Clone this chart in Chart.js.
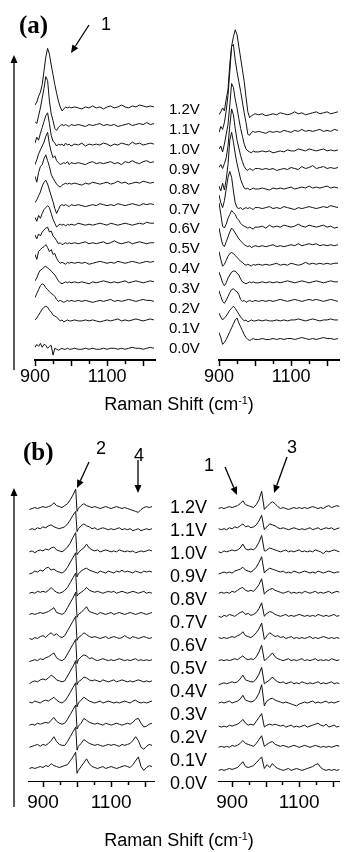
<!DOCTYPE html>
<html>
<head>
<meta charset="utf-8">
<script src="https://cdn.jsdelivr.net/npm/chart.js@4.4.0/dist/chart.umd.min.js"></script>
<style>
  body { margin: 0; background: #fff; }
  #page { position: relative; width: 345px; height: 852px; overflow: hidden; background: #fff;
          font-family: 'Liberation Sans', Arial, sans-serif; color: #000; }
  canvas { position: absolute; }
  .txt { position: absolute; white-space: nowrap; line-height: 1; }
  .lettre { font-family: 'Liberation Serif', 'Times New Roman', serif; font-weight: bold; font-size: 25px; }
  .num { font-size: 18px; transform: translate(-50%, -50%); }
  .titre { font-size: 18px; transform: translate(-50%, -50%); }
  .titre sup { font-size: 0.6em; vertical-align: 0.6em; line-height: 0; }
  svg { position: absolute; left: 0; top: 0; }
</style>
</head>
<body>
<div id="page">
  <canvas id="aGauche" width="172" height="374" style="left:0;top:20px"></canvas>
  <canvas id="aDroite" width="165" height="374" style="left:180px;top:20px"></canvas>
  <canvas id="bGauche" width="172" height="354" style="left:0;top:470px"></canvas>
  <canvas id="bDroite" width="165" height="354" style="left:180px;top:470px"></canvas>
  <svg id="fleches" width="345" height="852"></svg>
</div>
<script>
// ==================== DONNÉES ====================

const tensions = ['1.2V', '1.1V', '1.0V', '0.9V', '0.8V', '0.7V', '0.6V', '0.5V', '0.4V', '0.3V', '0.2V', '0.1V', '0.0V'];

// Raman shift (cm-1), panneau (a) : plus serré autour du pic
const shiftA = [900, 905, 910, 915, 920, 925, 930, 935, 940, 945, 950, 955, 960, 965, 970, 975, 980, 985, 990, 995, 1000,
  1010, 1020, 1030, 1040, 1050, 1060, 1070, 1080, 1090, 1100, 1110, 1120, 1130, 1140, 1150, 1160, 1170, 1180, 1190, 1200, 1210, 1220, 1230];

// Raman shift (cm-1), panneau (b) ; point en plus à 1000 pour la chute du pic
const shiftB = [860, 868, 876, 884, 892, 900, 908, 916, 924, 932, 940, 948, 956, 964, 972, 980, 988, 996, 1000, 1004, 1012,
  1020, 1028, 1036, 1044, 1052, 1060, 1068, 1076, 1084, 1092, 1100, 1108, 1116, 1124, 1132, 1140, 1148, 1156, 1164, 1172,
  1180, 1188, 1196, 1204, 1212, 1220];

const ticksLabels = [900, 1100];

// Décalage vertical de chaque spectre dans l'empilement (1.2V en haut)
const decalageAGauche = [258, 240, 220, 201, 180, 158, 138, 119, 99, 79, 60, 40, 11];
const decalageADroite = [251, 233, 213, 195, 175, 155, 135, 116, 97, 79, 60, 40, 21];
const decalageBGauche = [283, 261, 238, 216, 195, 173, 148, 125, 103, 81, 58, 36, 13];
const decalageBDroite = [283, 261, 238, 216, 195, 171, 148, 125, 101, 81, 56, 35, 11];

// Intensités (au-dessus de la ligne de base de chaque spectre)
const spectresAGauche = [
  [3, 6, 12, 16, 24, 38, 52, 61, 55, 44, 34, 24, 15, 7, 1, -3, -1, 1, 0, 1, 0, 1, 0, -1, 1, 0, 2, 0, 1, -1, 1, 2, 0, 1, 3, 1, 0, 2, 1, 3, 2, 1, 2, 1],
  [4, 2, 10, 18, 28, 38, 50, 46, 25, 12, 5, -3, -5, -2, 0, 1, 0, 1, 0, -1, 1, 0, 1, 0, -1, 1, 0, 1, 2, 0, 1, 0, 1, -1, 0, 1, 2, 0, 1, 2, 1, 3, 1, 2],
  [2, 8, 5, 12, 18, 24, 30, 33, 22, 10, 4, 2, -1, 1, 0, 1, -1, 2, 0, 1, -1, 1, 0, 2, -1, 1, 0, 1, 0, 2, 1, -1, 1, 0, 2, 1, 0, 3, 1, 2, 0, 1, 2, 1],
  [-1, 4, 10, 14, 18, 22, 28, 32, 20, 12, 6, 8, 3, 1, -1, 0, 1, 0, 2, -1, 1, 0, 1, 0, -1, 1, 2, 0, 1, 0, 1, 2, 0, 1, -1, 2, 1, 3, 1, 0, 2, 3, 1, 2],
  [8, 2, 12, 18, 20, 26, 30, 24, 18, 10, 6, 3, 0, -2, -3, -1, 0, 1, 0, 1, 0, 1, 0, -1, 1, 0, 2, 1, 0, 1, 2, 0, 1, 3, 1, 2, 0, 1, 2, 1, 3, 2, 1, 2],
  [3, 6, 10, 14, 20, 24, 26, 22, 16, 10, 4, -3, -8, -4, 0, 1, 0, 1, 0, -1, 1, 0, 1, 0, -1, 0, 1, 0, 2, 1, 0, 1, 0, 2, 1, 0, 1, 2, 1, 0, 2, 1, 2, 1],
  [8, 4, 10, 7, 12, 16, 18, 20, 18, 12, 6, 2, -2, 0, 1, 0, 1, -1, 1, 0, 1, 0, 2, 1, 0, 1, 0, 1, 2, 1, 0, 2, 1, 0, 1, 2, 1, 0, 1, 2, 1, 3, 2, 2],
  [9, 5, 10, 8, 12, 14, 16, 17, 12, 13, 8, 6, 3, 0, 1, -1, 0, 1, 0, 1, 0, 1, 0, 1, 2, 0, 1, 0, 1, 2, 0, 1, 3, 1, 0, 1, 2, 0, 1, 2, 1, 0, 1, 1],
  [9, 4, 12, 14, 16, 17, 19, 16, 12, 14, 9, 10, 5, 2, 0, 1, 0, -1, 1, 0, 1, 0, 1, 0, 1, -1, 0, 1, 2, 1, 0, 1, 0, 2, 1, 0, 1, 2, 1, 0, 1, 2, 1, 2],
  [2, 5, 10, 13, 14, 16, 17, 15, 14, 12, 10, 8, 5, 2, 0, -1, 0, 1, 0, 1, 0, 1, 0, 1, 0, -1, 1, 0, 1, 2, 1, 0, 1, 0, 1, 2, 0, 1, 2, 1, 0, 1, 2, 1],
  [4, 8, 12, 16, 18, 17, 14, 12, 10, 8, 7, 5, 2, 0, 1, 0, -1, 0, 1, 0, 1, 0, 1, 0, 1, 0, -1, 0, 1, 0, 1, 2, 0, 1, 0, 1, 2, 1, 0, 1, 2, 1, 1, 0],
  [1, 3, 6, 9, 12, 14, 15, 14, 11, 9, 6, 5, 4, 2, 0, 1, -1, 0, 1, 0, 0, 1, 0, 0, 1, 0, 1, 0, -1, 0, 1, 0, 1, 2, 0, 1, 0, 1, 2, 1, 0, 1, 2, 1],
  [2, 5, 3, 6, 2, 5, 4, 1, 3, 4, -6, 1, 0, -1, 0, 1, 0, 0, 1, 0, 0, 1, 0, 0, 1, 0, 1, 0, 0, 1, 0, 1, 1, 0, 1, 0, 1, 2, 1, 1, 0, 1, 2, 1]
];

const spectresADroite = [
  [0, 3, 7, 4, 16, 26, 52, 70, 80, 87, 82, 70, 58, 46, 34, 18, 3, -3, -1, 0, 1, 0, 1, -1, 0, 1, 0, 2, 1, 0, 1, 3, 1, 2, 0, 1, 2, 3, 1, 2, 3, 1, 2, 3],
  [0, 6, 3, 10, 22, 38, 62, 88, 90, 74, 62, 52, 42, 31, 20, 10, -2, -3, 0, 1, 0, 1, 0, -1, 1, 0, 1, 0, 2, 1, 0, 2, 1, 3, 1, 2, 1, 2, 3, 1, 2, 1, 3, 2],
  [3, 6, 0, 8, 18, 28, 48, 70, 66, 54, 45, 34, 24, 16, 8, 3, 1, 0, -1, 1, 0, 0, 1, 0, 1, -1, 0, 1, 0, 2, 1, 1, 3, 2, 1, 3, 2, 1, 2, 3, 1, 2, 1, 2],
  [2, 5, 1, 6, 12, 24, 45, 62, 56, 42, 30, 22, 14, 8, 3, 0, -1, 1, 0, -1, 1, 1, 0, 1, 0, 1, -1, 0, 1, 0, 2, 1, 0, 3, 1, 2, 4, 1, 2, 3, 1, 2, 1, 2],
  [3, -2, 6, -1, 10, 25, 50, 58, 48, 36, 26, 18, 10, 5, 1, 0, 1, -1, 0, 1, 0, 0, 1, 0, -1, 1, 0, 1, 0, 1, 2, 0, 1, 2, 1, 3, 1, 2, 1, 2, 3, 1, 2, 1],
  [14, 6, 1, 8, 20, 32, 38, 32, 18, 6, 1, 0, 1, -1, 0, 1, 0, 1, 0, -1, 1, 1, 0, 1, 2, 0, 1, 0, 2, 1, 0, -1, 1, 0, 1, 2, 1, 0, 1, 2, 1, 3, 2, 1],
  [26, 14, 2, 0, 4, 10, 14, 18, 16, 14, 10, 8, 5, 3, 2, 1, 0, 1, 0, -1, 1, 1, 2, 0, 3, 1, 2, 1, 3, 2, 1, 2, 4, 2, 1, 3, 2, 1, 2, 3, 1, 2, 0, 1],
  [19, 10, 2, 0, 5, 10, 15, 19, 17, 14, 11, 8, 6, 4, 2, 1, 0, 1, -1, 0, 1, 0, 1, 0, 1, 2, 0, 1, 0, 1, 2, 1, 3, 1, 2, 3, 2, 3, 1, 2, 1, 2, 1, 2],
  [14, 6, -1, 1, 5, 9, 12, 13, 12, 10, 8, 6, 4, 3, 1, 0, 1, 0, -1, 1, 0, 1, 0, 1, 0, 1, 2, 0, 1, 0, 2, 1, 0, 1, 3, 1, 2, 1, 2, 1, 2, 1, 2, 2],
  [11, 6, 0, -3, 0, 5, 8, 11, 12, 12, 10, 8, 4, 1, 0, -1, 0, 1, 0, 1, 0, 0, 1, 0, 1, 0, 1, 0, 1, 2, 1, 0, 1, 2, 1, 0, 1, 2, 1, 0, 1, 2, 1, 1],
  [11, 5, 0, -2, 1, 5, 9, 12, 13, 11, 10, 7, 2, 0, 1, -1, 0, 1, 0, 0, 1, 0, 1, 0, 1, 0, 1, 2, 1, 0, 1, 2, 1, 0, 1, 2, 1, 2, 1, 0, 1, 2, 1, 0],
  [8, 4, 1, 3, 5, 8, 11, 13, 15, 13, 10, 7, 4, 2, 0, 1, -1, 0, 1, 0, 0, 1, 0, 1, 0, 0, 1, 0, 1, 0, 1, 1, 2, 1, 0, 1, 2, 1, 0, 1, 1, 2, 1, 1],
  [7, 2, -5, -3, 0, 4, 8, 12, 16, 20, 22, 17, 13, 9, 5, 2, 0, -1, 0, 1, 0, 0, 1, 0, 0, 1, 0, 1, 0, 1, 1, 0, 1, 2, 1, 0, 1, 0, 1, 2, 1, 1, 0, 1]
];

const spectresBGauche = [
  [-1, 0, 1, 0, 1, 2, 1, 2, 3, 6, 3, 2, 1, 3, 5, 9, 14, 20, -3, 0, 3, 5, 3, 2, 1, 2, 1, 0, 1, 2, 1, 0, 1, 2, 1, 0, 1, 0, -1, -2, -3, -4, -1, 1, 2, 1, 2],
  [0, 1, 0, 2, 1, 3, 2, 4, 5, 3, 2, 1, 2, 3, 6, 10, 15, 19, -2, 1, 4, 6, 4, 3, 1, 2, 0, 1, 2, 1, 0, 1, 0, 1, 2, 0, 1, 0, 1, -1, 0, 1, -1, 0, 1, 0, 1],
  [0, 1, -1, 1, 2, 1, 3, 2, 4, 5, 2, 1, 0, 2, 5, 9, 15, 20, -3, -1, 2, 4, 8, 4, 2, 1, 2, 0, 1, 2, 1, 0, 1, 0, 2, 1, 0, 1, 0, 1, -1, 0, 1, 0, 1, 2, 1],
  [-1, 0, 2, 1, 3, 2, 5, 6, 3, 4, 2, 1, 0, 2, 6, 11, 16, 21, -4, -1, 2, 4, 5, 3, 2, 1, 0, 2, 1, 0, 2, 1, 0, 2, 1, 3, 1, 2, 1, 0, 2, 1, 0, 2, 1, 2, 1],
  [0, 1, 0, 2, 1, 2, 1, 3, 6, 3, 1, 0, 1, 3, 6, 11, 16, 21, -3, -1, 1, 3, 6, 3, 2, 1, 2, 1, 0, 1, 2, 1, 2, 0, 1, 2, 1, 0, 1, 2, 1, 0, 1, 2, 0, 1, 0],
  [0, 1, 0, 1, 2, 1, 2, 3, 5, 7, 2, 1, 0, 2, 7, 12, 17, 23, -3, 0, 2, 5, 8, 3, 2, 1, 0, 2, 1, 0, 1, 2, 0, 1, 2, 1, 0, 1, 2, 1, 0, 1, 2, 1, 0, 1, 2],
  [0, -1, 1, 0, 2, 3, 1, 4, 6, 3, 5, 2, 1, 3, 8, 13, 18, 23, -2, 1, 3, 6, 4, 2, 1, 2, 1, 0, 1, 2, 0, 1, 2, 1, 0, 1, 3, 1, 0, 2, 1, 0, 1, 2, 1, 0, 1],
  [-1, 0, 1, 0, 2, 1, 3, 4, 6, 8, 3, 1, 0, 2, 7, 12, 17, 22, -3, 1, 4, 6, 5, 2, 3, 1, 0, 1, 2, 1, 0, 1, 0, 1, 2, 1, 0, 1, 0, 1, 2, 0, 1, 0, 1, 0, 1],
  [-2, 0, 1, 0, 2, 3, 2, 4, 7, 5, 2, 1, 0, 1, 6, 11, 16, 22, -3, 0, 2, 5, 4, 2, 1, 2, 1, 0, 2, 1, 0, 1, 2, 0, 1, 2, 1, 0, 1, 0, 1, 2, 1, 0, 1, 0, 1],
  [1, 0, 2, 1, 0, 2, 3, 2, 4, 6, 3, 1, 0, 2, 6, 11, 16, 21, -4, 0, 3, 6, 4, 2, 1, 0, 1, 2, 0, 1, 2, 1, 0, 1, 0, 1, 2, 1, 0, 2, 3, 1, 0, 1, 0, 1, 2],
  [0, 1, 0, 2, 1, 2, 3, 2, 5, 8, 4, 2, 1, 2, 6, 11, 16, 21, -4, -1, 2, 7, 5, 3, 2, 1, 2, 1, 0, 2, 1, 0, 1, 2, 1, 0, 1, 2, 1, 3, 6, 7, 2, -2, -1, 1, 2],
  [-1, 0, 1, 2, 0, 2, 1, 3, 6, 10, 5, 2, 1, 1, 5, 10, 15, 20, -4, 0, 3, 7, 5, 3, 2, 1, 2, 1, 0, 1, 2, 1, 2, 1, 0, 2, 1, 2, 3, 6, 10, 6, -1, -3, 0, 2, 1],
  [0, 1, 0, 1, 2, 1, 3, 2, 5, 3, 2, 1, 2, 3, 4, 8, 12, 17, -5, -2, 2, 6, 10, 5, 2, 1, 0, 1, 2, 0, 1, 2, 1, 0, 1, 2, 3, 2, 1, 4, 8, 12, 2, -2, 1, 3, 2]
];

const spectresBDroite = [
  [0, 1, 0, 1, 2, 1, 2, 3, 5, 8, 4, 3, 2, 1, 4, 9, 18, -1, 1, 2, 5, 7, 5, 2, 0, 1, 0, -1, 0, 1, 0, 1, 0, 1, 0, 1, 2, 1, 0, 1, 0, 2, 3, 1, 2, 3, 2],
  [1, 0, 1, 0, 2, 1, 3, 2, 4, 6, 3, 4, 2, 3, 5, 9, 15, 0, 2, 3, 6, 5, 4, 2, 1, 2, 1, 0, 1, 2, 1, 0, 1, 0, 1, 2, 0, 1, 2, 0, 1, 2, 1, 2, 0, 1, 2],
  [0, -1, 1, 0, 1, 2, 1, 2, 4, 8, 3, 2, 3, 2, 5, 10, 17, 1, 1, 2, 4, 3, 2, 1, 0, 1, 2, 0, 1, 0, 1, 2, 0, 1, 0, 1, 0, 2, 1, 0, -2, 1, 0, 1, 2, 1, 0],
  [-1, 0, 1, 0, 1, 0, 2, 3, 4, 6, 3, 2, 1, 3, 6, 11, 17, 0, 2, 3, 5, 4, 3, 2, 1, 2, 0, 1, 0, 2, 1, 0, 1, 2, 1, 0, 1, 0, 2, 1, 0, 1, 2, 1, 0, 1, 1],
  [0, 1, 0, 1, 0, 2, 1, 3, 5, 6, 3, 2, 3, 2, 5, 9, 15, -1, 1, 2, 4, 5, 3, 2, 1, 0, 1, 2, 0, 1, 0, 1, 0, 2, 1, 0, 1, 2, 0, 1, 0, 1, 2, 0, 1, 2, 1],
  [0, -1, 1, 0, 2, 1, 0, 2, 4, 5, 2, 3, 1, 2, 4, 8, 14, 0, 2, 3, 5, 4, 2, 1, 0, 1, 2, 0, 1, 0, 1, 2, 1, 0, 1, 0, 1, 0, 2, 1, 0, 1, 0, 1, 2, 0, 1],
  [1, 0, 1, 0, 1, 2, 1, 3, 4, 7, 3, 2, 1, 3, 6, 10, 16, -1, 1, 3, 6, 4, 2, 3, 1, 2, 0, 1, 2, 0, 1, 0, 1, 0, 1, 2, 0, 1, 0, 1, 2, 1, 0, 1, 0, 1, 0],
  [0, 1, 0, 1, 0, 1, 2, 1, 3, 5, 2, 1, 2, 1, 4, 9, 16, 0, 1, 2, 5, 8, 4, 2, 1, 0, 1, 2, 0, 1, 0, 1, 2, 0, 1, 0, 1, 2, 0, 1, 0, 1, 0, 2, 1, 0, 1],
  [-1, 0, 1, 0, 1, 2, 1, 2, 5, 9, 4, 3, 2, 2, 5, 10, 17, 0, 1, 2, 4, 7, 4, 2, 1, 2, 0, 1, 2, 0, 1, 0, 2, 1, 0, 1, 0, 1, 2, 0, 1, 0, 1, 2, 0, 1, 0],
  [0, 1, 0, 1, 2, 0, 1, 2, 4, 8, 3, 2, 1, 2, 5, 10, 19, -3, 0, 2, 4, 5, 3, 2, 1, 0, 1, 0, -1, -2, -3, -1, 0, 1, 0, 1, 2, 0, 1, 0, 1, 2, 0, 1, 0, 1, 2],
  [1, 0, 1, 0, 2, 1, 2, 3, 5, 8, 4, 2, 3, 2, 6, 10, 14, 0, 1, 2, 3, 2, 3, 2, 1, 2, 0, 1, 2, 0, 1, 0, 1, 2, 0, 1, 2, 3, 4, 2, 1, 3, 0, 1, 2, 0, 1],
  [0, 1, 0, 1, 0, 2, 1, 2, 4, 7, 4, 3, 2, 1, 4, 8, 12, 1, 2, 3, 5, 6, 3, 2, 1, 2, 1, 0, 1, 2, 1, 0, 1, 2, 1, 0, 1, 2, 1, 0, 1, 0, 1, 0, 1, 2, 1],
  [0, 1, 0, 1, 2, 1, 2, 3, 6, 9, 4, 3, 4, 5, 8, 11, 14, 2, 4, 6, 3, 7, 4, 2, 1, 0, 1, 2, 0, 1, 2, 1, 0, 1, 2, 3, 4, 6, 7, 3, 1, 0, 1, 0, 1, 0, 1]
];

// ==================== GRAPHIQUES ====================

// Graduations : longues tous les 100 cm-1, courtes tous les 50
const graduations = {
  id: 'graduations',
  afterDraw(chart) {
    const ax = chart.scales.x;
    const ctx = chart.ctx;
    const bas = chart.chartArea.bottom;
    ctx.save();
    ctx.strokeStyle = '#000';
    ctx.lineWidth = 1.5;
    for (let v = Math.ceil(ax.min / 50) * 50; v <= ax.max; v += 50) {
      const px = Math.round(ax.getPixelForValue(v)) + 0.5;
      ctx.beginPath();
      ctx.moveTo(px, bas);
      ctx.lineTo(px, bas + (v % 100 === 0 ? 6 : 4));
      ctx.stroke();
    }
    ctx.restore();
  }
};

function dessinerPanneau(id, xs, spectres, decalages, p) {
  spectres.forEach((s, k) => { if (s.length !== xs.length) console.warn(id, k, s.length); });
  const datasets = spectres.map((vals, k) => ({
    data: xs.map((x, i) => ({ x: x, y: vals[i] + decalages[k] })),
    borderColor: '#111',
    borderWidth: 1,
    pointRadius: 0,
    tension: 0,
    fill: false
  }));

  new Chart(document.getElementById(id), {
    type: 'line',
    data: { datasets: datasets },
    options: {
      responsive: false,
      animation: false,
      devicePixelRatio: 1,
      events: [],
      layout: { padding: { left: p.gauche, right: p.droite, top: 0, bottom: 0 } },
      plugins: { legend: { display: false }, tooltip: { enabled: false } },
      scales: {
        x: {
          type: 'linear',
          min: p.xmin,
          max: p.xmax,
          grid: { display: false, drawTicks: false },
          border: { display: true, color: '#000', width: p.axe },
          ticks: {
            stepSize: 50,
            includeBounds: false,
            autoSkip: false,
            maxRotation: 0,
            padding: p.pad,
            color: '#000',
            font: { family: "'Liberation Sans', Arial, sans-serif", size: p.police, lineHeight: 1 },
            callback: v => ticksLabels.includes(v) ? String(v) : ''
          }
        },
        y: { display: false, min: 0, max: p.ymax }
      }
    },
    plugins: [graduations]
  });
}

dessinerPanneau('aGauche', shiftA, spectresAGauche, decalageAGauche,
  { gauche: 35, droite: 17, xmin: 900, xmax: 1233, ymax: 348, axe: 2, pad: 8, police: 18 });
dessinerPanneau('aDroite', shiftA, spectresADroite, decalageADroite,
  { gauche: 39, droite: 6, xmin: 900, xmax: 1233, ymax: 348, axe: 2, pad: 8, police: 18 });
dessinerPanneau('bGauche', shiftB, spectresBGauche, decalageBGauche,
  { gauche: 28, droite: 18, xmin: 856, xmax: 1226, ymax: 323, axe: 1, pad: 12, police: 19 });
dessinerPanneau('bDroite', shiftB, spectresBDroite, decalageBDroite,
  { gauche: 38, droite: 3, xmin: 858, xmax: 1220, ymax: 323, axe: 1, pad: 12, police: 19 });

// ==================== TEXTES ====================

const page = document.getElementById('page');

function texte(contenu, classe, style) {
  const d = document.createElement('div');
  d.className = 'txt ' + classe;
  d.innerHTML = contenu;
  Object.assign(d.style, style);
  page.appendChild(d);
}

tensions.forEach((t, i) => {
  texte(t, '', { left: '169px', top: (108 + i * 19.9) + 'px', fontSize: '15px', transform: 'translateY(-50%)' });
  texte(t, '', { left: '170px', top: (507 + i * 23) + 'px', fontSize: '18px', transform: 'translateY(-50%)' });
});

texte('(a)', 'lettre', { left: '19px', top: '12px' });
texte('(b)', 'lettre', { left: '23px', top: '439px' });
texte('1', 'num', { left: '106px', top: '24px' });
texte('2', 'num', { left: '101px', top: '448px' });
texte('4', 'num', { left: '139px', top: '455px' });
texte('1', 'num', { left: '209px', top: '465px' });
texte('3', 'num', { left: '292px', top: '447px' });
texte('Raman Shift (cm<sup>-1</sup>)', 'titre', { left: '179px', top: '404px' });
texte('Raman Shift (cm<sup>-1</sup>)', 'titre', { left: '179px', top: '840px' });

// ==================== FLÈCHES ====================

const svg = document.getElementById('fleches');
function fleche(x1, y1, x2, y2) {
  const ns = 'http://www.w3.org/2000/svg';
  const a = Math.atan2(y2 - y1, x2 - x1);
  const L = 8, W = 3.5;
  const bx = x2 - L * Math.cos(a), by = y2 - L * Math.sin(a);
  const ligne = document.createElementNS(ns, 'line');
  ligne.setAttribute('x1', x1); ligne.setAttribute('y1', y1);
  ligne.setAttribute('x2', bx); ligne.setAttribute('y2', by);
  ligne.setAttribute('stroke', '#000'); ligne.setAttribute('stroke-width', '1.3');
  svg.appendChild(ligne);
  const tete = document.createElementNS(ns, 'polygon');
  tete.setAttribute('points', [
    x2 + ',' + y2,
    (bx + W * Math.sin(a)) + ',' + (by - W * Math.cos(a)),
    (bx - W * Math.sin(a)) + ',' + (by + W * Math.cos(a))
  ].join(' '));
  tete.setAttribute('fill', '#000');
  svg.appendChild(tete);
}

fleche(14, 370, 14, 55);
fleche(14, 807, 14, 488);
fleche(89, 25, 71, 53);
fleche(89, 462, 77, 488);
fleche(138, 460, 138, 493);
fleche(225, 467, 237, 495);
fleche(287, 457, 274, 493);
</script>
</body>
</html>
